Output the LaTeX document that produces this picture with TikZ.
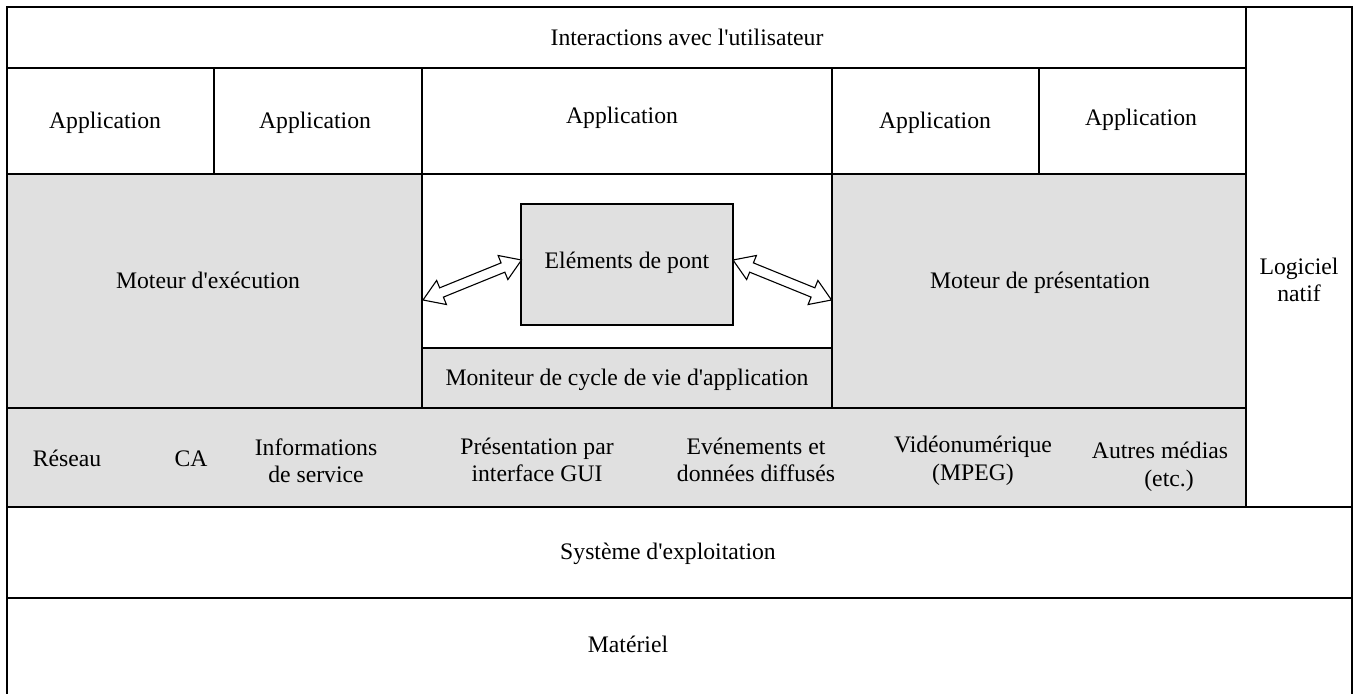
\documentclass[tikz,border=0pt]{standalone}
\usepackage{fontspec}
\newfontfamily\libserif{Liberation Serif}
\usetikzlibrary{calc}
\definecolor{boxgray}{HTML}{E0E0E0}
\tikzset{
  frame/.style={draw=black, line width=1.1pt},
  grayfill/.style={frame, fill=boxgray},
  lbl/.style={font=\libserif\fontsize{23.7}{27.5}\selectfont, inner sep=0pt, align=center},
  lblb/.style={lbl, anchor=base},
  hollowarrow/.style={to path={
    -- ($(\tikztostart)!20pt!(\tikztotarget)!13pt!90:(\tikztotarget)$)
    -- ($(\tikztostart)!20pt!(\tikztotarget)!5pt!90:(\tikztotarget)$)
    -- ($(\tikztotarget)!20pt!(\tikztostart)!5pt!-90:(\tikztostart)$)
    -- ($(\tikztotarget)!20pt!(\tikztostart)!13pt!-90:(\tikztostart)$)
    -- (\tikztotarget)
    -- ($(\tikztotarget)!20pt!(\tikztostart)!13pt!90:(\tikztostart)$)
    -- ($(\tikztotarget)!20pt!(\tikztostart)!5pt!90:(\tikztostart)$)
    -- ($(\tikztostart)!20pt!(\tikztotarget)!5pt!-90:(\tikztotarget)$)
    -- ($(\tikztostart)!20pt!(\tikztotarget)!13pt!-90:(\tikztotarget)$)
    -- cycle}},
  arrowbody/.style={draw=black, line width=1.1pt, fill=white, line join=miter}
}
\begin{document}
\begin{tikzpicture}[x=1pt, y=-1pt]
\useasboundingbox (0,0) rectangle (1356,693);
\fill[white] (0,0) rectangle (1356,693);

% rows
\draw[frame] (7,7) rectangle (1246,68);
\draw[frame] (7,68) rectangle (214,174);
\draw[frame] (214,68) rectangle (422,174);
\draw[frame] (422,68) rectangle (832,174);
\draw[frame] (832,68) rectangle (1039,174);
\draw[frame] (1039,68) rectangle (1246,174);

\draw[grayfill] (7,174) rectangle (422,408);
\draw[frame] (422,174) rectangle (832,408);
\draw[grayfill] (832,174) rectangle (1246,408);
\draw[grayfill] (422,348) rectangle (832,408);
\draw[grayfill] (521,204) rectangle (733,325);

\draw[grayfill] (7,408) rectangle (1246,507);
\draw[frame] (1246,7) rectangle (1352,507);
\draw[frame] (7,507) rectangle (1352,598);
\draw[frame] (7,598) rectangle (1352,720);

% labels
\node[lblb] (inter) at (687,46) {Interactions avec l'utilisateur};
\node[lblb] (app1) at (105,128) {Application};
\node[lblb] (app2) at (315,128) {Application};
\node[lblb] (app3) at (622,123) {Application};
\node[lblb] (app4) at (935,128) {Application};
\node[lblb] (app5) at (1141,125) {Application};

\node[lblb] (exec) at (208,288) {Moteur d'exécution};
\node[lblb] (pont) at (627,268) {Eléments de pont};
\node[lblb] (pres) at (1040,288) {Moteur de présentation};
\node[lblb] (moni) at (627,385) {Moniteur de cycle de vie d'application};
\node[lbl] (natif) at (1299,280) {Logiciel\\natif};

\node[lblb] (reseau) at (67,466) {Réseau};
\node[lblb] (ca) at (191,466) {CA};
\node[lbl] (info) at (316,461) {Informations\\de service};
\node[lbl] (gui) at (537,460) {Présentation par\\interface GUI};
\node[lbl] (evt) at (756,460) {Evénements et\\données diffusés};
\node[lbl] (mpeg) at (973,461) {Vidéonumérique\\(MPEG)};
\node[lbl] (autres) at (1160,467) {Autres médias\\\hspace*{18pt}(etc.)};

\node[lblb] (os) at (668,559) {Système d'exploitation};
\node[lblb] (mat) at (628,652) {Matériel};

% arrows
\coordinate (al) at (423,300);
\coordinate (alp) at (521.5,260);
\coordinate (arp) at (733,260);
\coordinate (ar) at (831.5,300);
\draw[arrowbody] (al) to[hollowarrow] (alp);
\draw[arrowbody] (arp) to[hollowarrow] (ar);
\end{tikzpicture}
\end{document}
